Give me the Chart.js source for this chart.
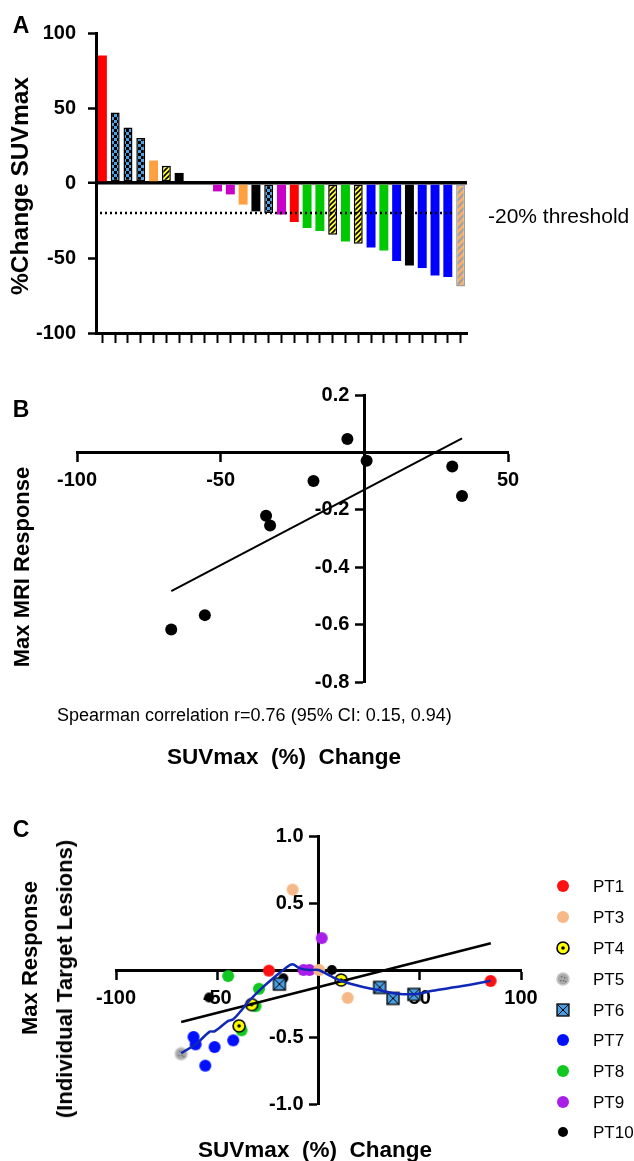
<!DOCTYPE html>
<html>
<head>
<meta charset="utf-8">
<script src="https://cdn.jsdelivr.net/npm/chart.js@4.4.1/dist/chart.umd.min.js"></script>
<style>
  body { margin: 0; background: #fff; width: 634px; height: 1161px; position: relative; overflow: hidden;
         font-family: 'Liberation Sans', Arial, sans-serif; color: #000; }
  canvas { position: absolute; left: 0; }
  .t { position: absolute; white-space: pre; line-height: 1; transform: translate(-50%, -50%); }
  .b { font-weight: bold; font-size: 22px; }
  .rot { transform: translate(-50%, -50%) rotate(-90deg); }
  .lg { position: absolute; left: 555px; width: 80px; height: 20px; }
  .lg canvas { position: absolute; left: 0; top: 2px; }
  .lg span { position: absolute; left: 38px; top: 2px; font-size: 17px; line-height: 1; }
</style>
</head>
<body>
<canvas id="chartA" width="634" height="360" style="top:0"></canvas>
<canvas id="chartB" width="634" height="420" style="top:360px"></canvas>
<canvas id="chartC" width="634" height="371" style="top:790px"></canvas>

<div class="t b" style="left:21px;top:25px;font-size:23px">A</div>
<div class="t b rot" style="left:20px;top:186px;font-size:24.5px">%Change SUVmax</div>
<div class="t" style="left:488px;top:215px;transform:translate(0,-50%);font-size:21px">-20% threshold</div>

<div class="t b" style="left:21px;top:409px;font-size:23px">B</div>
<div class="t b rot" style="left:22px;top:567px">Max MRI Response</div>
<div class="t" style="left:57px;top:715px;transform:translate(0,-50%);font-size:18px">Spearman correlation r=0.76 (95% CI: 0.15, 0.94)</div>
<div class="t b" style="left:284px;top:757px;font-size:22.5px">SUVmax  (%)  Change</div>

<div class="t b" style="left:21px;top:829px;font-size:23px">C</div>
<div class="t b rot" style="left:30px;top:958px">Max Response</div>
<div class="t b rot" style="left:65px;top:979px">(Individual Target Lesions)</div>
<div class="t b" style="left:315px;top:1150px;font-size:22.5px">SUVmax  (%)  Change</div>
<div id="legendC"></div>

<script>
// panel A: waterfall of SUVmax change per lesion
const barPatients = ['PT1', 'PT6', 'PT6', 'PT6', 'PT3', 'PT4', 'PT10', '', '', 'PT9', 'PT9', 'PT3', 'PT10', 'PT6', 'PT9',
                     'PT1', 'PT8', 'PT8', 'PT4', 'PT8', 'PT4', 'PT7', 'PT8', 'PT7', 'PT10', 'PT7', 'PT7', 'PT7', 'PT5'];
const barValues = [85, 47, 37, 30, 15, 11.5, 6.7, 0, 0, -5.6, -7.6, -14.4, -18.9, -20, -21,
                   -26, -30, -32, -34.5, -39, -40.5, -43, -45, -52, -55, -56.7, -61.6, -62.7, -69];
const thresholdA = -20;

// panel B: per patient SUVmax change vs max MRI response
const suvB = [-5.9, 0.8, -17.7, 30.6, 34, -34.2, -32.8, -55.5, -67.2];
const mriB = [0.047, -0.029, -0.1, -0.049, -0.152, -0.221, -0.255, -0.567, -0.617];
const fitBx = [-67.2, 34];
const fitBy = [-0.483, 0.049];

// panel C: individual target lesions
const patientsC = ['PT1', 'PT3', 'PT4', 'PT5', 'PT6', 'PT7', 'PT8', 'PT9', 'PT10'];
const suvC = {
  PT1: [-24.5, 85],
  PT3: [-12.8, 0.3, 14.4],
  PT4: [-33, -39.2, 11.2],
  PT5: [-67.8],
  PT6: [-19.3, 30.2, 36.8, 47.1],
  PT7: [-61.7, -60.7, -55.9, -51.3, -42.1],
  PT8: [-44.6, -29.4, -31.1, -38],
  PT9: [1.6, -7.4, -4.5],
  PT10: [-54, -17.4, 6.6]
};
const respC = {
  PT1: [-0.005, -0.082],
  PT3: [0.6, 0, -0.208],
  PT4: [-0.258, -0.417, -0.075],
  PT5: [-0.625],
  PT6: [-0.105, -0.13, -0.212, -0.182],
  PT7: [-0.5, -0.555, -0.714, -0.575, -0.525],
  PT8: [-0.045, -0.14, -0.27, -0.45],
  PT9: [0.238, 0, 0],
  PT10: [-0.205, -0.062, 0]
};
const fitCx = [-67.8, 85.1];
const fitCy = [-0.388, 0.2];
const smoothCx = [-67.8, -60.3, -53.7, -51.3, -44.6, -42.1, -38, -34.7, -28.1, -21.5, -16.5, -12.9, -9.1, -4.3,
                  0, 6.6, 12.4, 21.5, 29.7, 38, 47.9, 56.2, 71, 85];
const smoothCy = [-0.62, -0.55, -0.46, -0.458, -0.38, -0.368, -0.3, -0.238, -0.137, -0.05, 0.012, 0.043, 0.012, 0,
                  0, -0.05, -0.088, -0.125, -0.15, -0.175, -0.18, -0.155, -0.12, -0.08];

const tickFont = { family: "'Liberation Sans', Arial, sans-serif", size: 20, weight: 'bold' };
Chart.defaults.color = '#000';

// bar fills (patterns built on small tiles)
function tile(size, draw) {
  const c = document.createElement('canvas');
  c.width = c.height = size;
  draw(c.getContext('2d'), size);
  return document.getElementById('chartA').getContext('2d').createPattern(c, 'repeat');
}
function hatch(bg, line, size, w) {
  return tile(size, (g, s) => {
    g.fillStyle = bg; g.fillRect(0, 0, s, s);
    g.strokeStyle = line; g.lineWidth = w;
    g.beginPath();
    g.moveTo(-1, s + 1); g.lineTo(s + 1, -1);
    g.moveTo(-1, 1); g.lineTo(1, -1);
    g.moveTo(s - 1, s + 1); g.lineTo(s + 1, s - 1);
    g.stroke();
  });
}
const checkPattern = tile(6, (g, s) => {
  g.fillStyle = '#000'; g.fillRect(0, 0, s, s);
  g.fillStyle = '#4aa3e6'; g.fillRect(0, 0, 3, 3); g.fillRect(3, 3, 3, 3);
});

const styleA = {
  PT1: { fill: '#ff0000' },
  PT3: { fill: '#ffa040' },
  PT4: { fill: hatch('#ffff33', '#000', 5, 1.6), border: '#000' },
  PT5: { fill: hatch('#f7b06a', '#a0a0a0', 7, 2), border: '#a0a0a0' },
  PT6: { fill: checkPattern, border: '#000' },
  PT7: { fill: '#0000ff' },
  PT8: { fill: '#00c800' },
  PT9: { fill: '#c800c8' },
  PT10: { fill: '#000000' },
  '': { fill: 'rgba(0,0,0,0)' }
};

const thresholdLine = {
  id: 'thresholdLine',
  afterDatasetsDraw(chart) {
    const { ctx, chartArea, scales } = chart;
    const y = scales.y.getPixelForValue(thresholdA);
    const xEnd = scales.x.getPixelForValue(barValues.length - 2) + 6;
    ctx.save();
    ctx.setLineDash([2, 3]);
    ctx.lineWidth = 2.5;
    ctx.strokeStyle = '#000';
    ctx.beginPath();
    ctx.moveTo(chartArea.left + 4, y);
    ctx.lineTo(xEnd, y);
    ctx.stroke();
    ctx.restore();
  }
};

new Chart(document.getElementById('chartA'), {
  type: 'bar',
  data: {
    labels: barValues.map((v, i) => 'L' + (i + 1)),
    datasets: [{
      data: barValues,
      backgroundColor: c => styleA[barPatients[c.dataIndex]].fill,
      borderColor: c => styleA[barPatients[c.dataIndex]].border || 'rgba(0,0,0,0)',
      borderWidth: c => styleA[barPatients[c.dataIndex]].border ? 1.5 : 0,
      borderSkipped: false,
      barPercentage: 0.7,
      categoryPercentage: 1
    }]
  },
  options: {
    responsive: false,
    animation: false,
    layout: { padding: { top: 33, right: 167, left: 0, bottom: 0 } },
    plugins: { legend: { display: false }, tooltip: { enabled: false } },
    scales: {
      x: {
        grid: { offset: false, drawOnChartArea: false, tickLength: 10, tickWidth: 2, tickColor: '#000' },
        border: { color: '#000', width: 3 },
        ticks: { display: false },
        afterFit: s => { s.height = 27; }
      },
      y: {
        min: -100, max: 100,
        ticks: { stepSize: 50, font: tickFont, padding: 12 },
        grid: {
          color: c => (c.tick && c.tick.value === 0 ? '#000' : 'rgba(0,0,0,0)'),
          lineWidth: c => (c.tick && c.tick.value === 0 ? 3.5 : 1),
          tickColor: '#000', tickWidth: 2.5, tickLength: 8
        },
        border: { color: '#000', width: 3 },
        afterFit: s => { s.width = 96; }
      }
    }
  },
  plugins: [thresholdLine]
});

// crossing axes used by panels B and C; y labels are placed by the plugin below
function crossAxes(xmin, xmax, xstep, ymin, ymax, ystep) {
  return {
    x: {
      type: 'linear', position: { y: 0 }, min: xmin, max: xmax,
      ticks: { stepSize: xstep, font: tickFont, padding: 8, callback: v => (v === 0 ? '' : v) },
      grid: { drawOnChartArea: false, tickLength: 8, tickWidth: 2.5, tickColor: '#000' },
      border: { color: '#000', width: 3 },
      afterFit: s => { s.height = 0; }
    },
    y: {
      type: 'linear', position: { x: 0 }, min: ymin, max: ymax,
      ticks: { stepSize: ystep, display: false,
               callback: v => (Math.abs(v) < 1e-9 ? '' : v.toFixed(1)) },
      grid: { drawOnChartArea: false, tickLength: 8, tickWidth: 2.5, tickColor: '#000' },
      border: { color: '#000', width: 3 },
      afterFit: s => { s.width = 0; }
    }
  };
}

// y tick labels beside a y axis that crosses the middle of the plot
const crossYLabels = {
  id: 'crossYLabels',
  beforeDatasetsDraw(chart) {
    const { ctx, scales: { x, y } } = chart;
    const x0 = x.getPixelForValue(0) - 15;
    ctx.save();
    ctx.font = `bold ${tickFont.size}px ${tickFont.family}`;
    ctx.fillStyle = '#000';
    ctx.textAlign = 'right';
    ctx.textBaseline = 'middle';
    y.ticks.forEach(t => { if (t.label) ctx.fillText(t.label, x0, y.getPixelForValue(t.value)); });
    ctx.restore();
  }
};

new Chart(document.getElementById('chartB'), {
  type: 'scatter',
  data: {
    datasets: [
      { data: suvB.map((x, i) => ({ x, y: mriB[i] })), backgroundColor: '#000', pointRadius: 6, borderWidth: 0 },
      { type: 'line', data: fitBx.map((x, i) => ({ x, y: fitBy[i] })), borderColor: '#000', borderWidth: 2,
        pointRadius: 0, fill: false }
    ]
  },
  options: {
    responsive: false,
    animation: false,
    layout: { padding: { top: 35, left: 77, right: 126, bottom: 98 } },
    plugins: { legend: { display: false }, tooltip: { enabled: false } },
    scales: crossAxes(-100, 50, 50, -0.8, 0.2, 0.2)
  },
  plugins: [crossYLabels]
});

// markers for panel C
const markC = {
  PT1: { fill: '#ff1010' },
  PT3: { fill: '#f5b886' },
  PT4: { fill: '#ffff00', ring: '#000', dot: '#000' },
  PT5: { fill: '#a8a8a8', ring: '#c8c8c8', speckle: '#6e6e6e' },
  PT6: { square: true, fill: '#4a9ee0' },
  PT7: { fill: '#0010ff' },
  PT8: { fill: '#10c820' },
  PT9: { fill: '#a820e8' },
  PT10: { fill: '#000', r: 5 }
};
function markerCanvas(key) {
  const s = markC[key];
  const c = document.createElement('canvas');
  c.width = c.height = 16;
  const g = c.getContext('2d');
  if (s.square) {
    g.fillStyle = s.fill; g.fillRect(2, 2, 12, 12);
    g.strokeStyle = '#000'; g.lineWidth = 1.3; g.strokeRect(2, 2, 12, 12);
    g.beginPath(); g.moveTo(2.5, 2.5); g.lineTo(13.5, 13.5); g.moveTo(13.5, 2.5); g.lineTo(2.5, 13.5);
    g.lineWidth = 1; g.stroke();
  } else {
    g.beginPath(); g.arc(8, 8, s.r || 6, 0, Math.PI * 2);
    g.fillStyle = s.fill; g.fill();
    if (s.ring) { g.lineWidth = 1.6; g.strokeStyle = s.ring; g.stroke(); }
    if (s.dot) { g.beginPath(); g.arc(8, 8, 1.8, 0, Math.PI * 2); g.fillStyle = s.dot; g.fill(); }
    if (s.speckle) {
      g.fillStyle = s.speckle;
      [[6, 5], [9, 6], [5, 9], [8, 9], [10, 10]].forEach(([a, b]) => g.fillRect(a, b, 1.4, 1.4));
    }
  }
  return c;
}

const datasetsC = [
  { type: 'line', data: smoothCx.map((x, i) => ({ x, y: smoothCy[i] })), borderColor: '#1028b8', borderWidth: 2.5,
    pointRadius: 0, tension: 0.3, fill: false },
  { type: 'line', data: fitCx.map((x, i) => ({ x, y: fitCy[i] })), borderColor: '#000', borderWidth: 2.5,
    pointRadius: 0, fill: false }
];
patientsC.forEach(p => {
  datasetsC.push({
    label: p,
    data: suvC[p].map((x, i) => ({ x, y: respC[p][i] })),
    pointStyle: markerCanvas(p),
    pointRadius: 7
  });
});

new Chart(document.getElementById('chartC'), {
  type: 'scatter',
  data: { datasets: datasetsC },
  options: {
    responsive: false,
    animation: false,
    layout: { padding: { top: 46, left: 116, right: 113, bottom: 57 } },
    plugins: { legend: { display: false }, tooltip: { enabled: false } },
    scales: crossAxes(-100, 100, 50, -1, 1, 0.5)
  },
  plugins: [crossYLabels]
});

// legend for panel C
const legendY = [886, 917, 948, 979, 1010, 1040, 1071, 1102, 1132];
const legendBox = document.getElementById('legendC');
patientsC.forEach((p, i) => {
  const row = document.createElement('div');
  row.className = 'lg';
  row.style.top = (legendY[i] - 10) + 'px';
  row.appendChild(markerCanvas(p));
  const label = document.createElement('span');
  label.textContent = p;
  row.appendChild(label);
  legendBox.appendChild(row);
});
</script>
</body>
</html>
